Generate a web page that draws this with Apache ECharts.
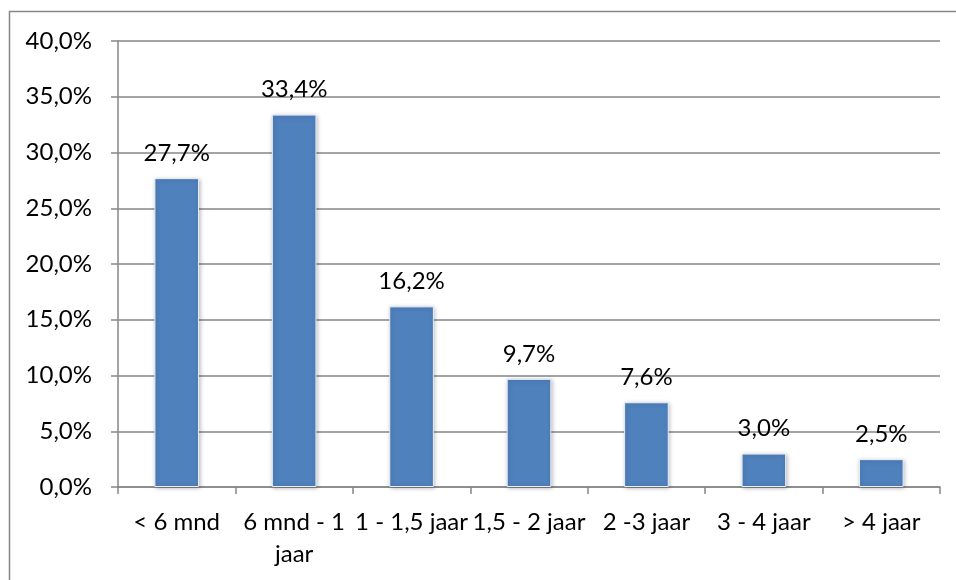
<!DOCTYPE html>
<html>
<head>
<meta charset="utf-8">
<script src="https://cdn.jsdelivr.net/npm/echarts@6/dist/echarts.min.js"></script>
<style>
  html, body { margin: 0; padding: 0; background: #fff; }
  #chart { width: 956px; height: 580px; }
</style>
</head>
<body>
<div id="chart"></div>
<script>
// categorieën en waarden (percentages)
const categories = ['< 6 mnd', '6 mnd - 1\njaar', '1 - 1,5 jaar', '1,5 - 2 jaar', '2 -3 jaar', '3 - 4 jaar', '> 4 jaar'];
const values = [27.7, 33.4, 16.2, 9.7, 7.6, 3.0, 2.5];
const yTicks = { min: 0, max: 40, interval: 5 };

const fontFamily = 'Lato, "Open Sans", sans-serif';
const lineColor = '#868686';

// 40.0 -> "40,0%"
const pct = (v) => Number(v).toFixed(1).replace('.', ',') + '%';

const chart = echarts.init(document.getElementById('chart'));

const option = {
  animation: false,
  backgroundColor: '#ffffff',
  textStyle: { fontFamily: fontFamily },
  grid: { left: 118, right: 16, top: 41, bottom: 93 },
  graphic: [{
    type: 'rect',
    shape: { x: 9.5, y: 11.5, width: 980, height: 620 },
    style: { fill: 'none', stroke: lineColor, lineWidth: 1.5 },
    silent: true
  }],
  xAxis: {
    type: 'category',
    data: categories,
    axisLine: { lineStyle: { color: lineColor, width: 1.5 } },
    axisTick: { show: true, length: 7, alignWithLabel: false, lineStyle: { color: lineColor, width: 1.5 } },
    axisLabel: {
      interval: 0,
      margin: 19,
      color: '#000',
      fontSize: 24,
      lineHeight: 32,
      fontFamily: fontFamily
    }
  },
  yAxis: {
    type: 'value',
    min: yTicks.min,
    max: yTicks.max,
    interval: yTicks.interval,
    axisLine: { show: true, lineStyle: { color: lineColor, width: 1.5 } },
    axisTick: { show: true, length: 7, lineStyle: { color: lineColor, width: 1.5 } },
    splitLine: { show: true, lineStyle: { color: lineColor, width: 1.5 } },
    axisLabel: {
      margin: 26,
      color: '#000',
      fontSize: 24,
      fontFamily: fontFamily,
      formatter: pct
    }
  },
  series: [{
    type: 'bar',
    data: values,
    barWidth: '38%',
    itemStyle: {
      color: '#4f81bd',
      borderColor: '#e8eef7',
      borderWidth: 1,
      shadowBlur: 4,
      shadowColor: 'rgba(0,0,0,0.25)',
      shadowOffsetX: 1,
      shadowOffsetY: 1
    },
    label: {
      show: true,
      position: 'top',
      distance: 13,
      color: '#000',
      fontSize: 24,
      fontFamily: fontFamily,
      formatter: (p) => pct(p.value)
    }
  }]
};

chart.setOption(option);
</script>
</body>
</html>
